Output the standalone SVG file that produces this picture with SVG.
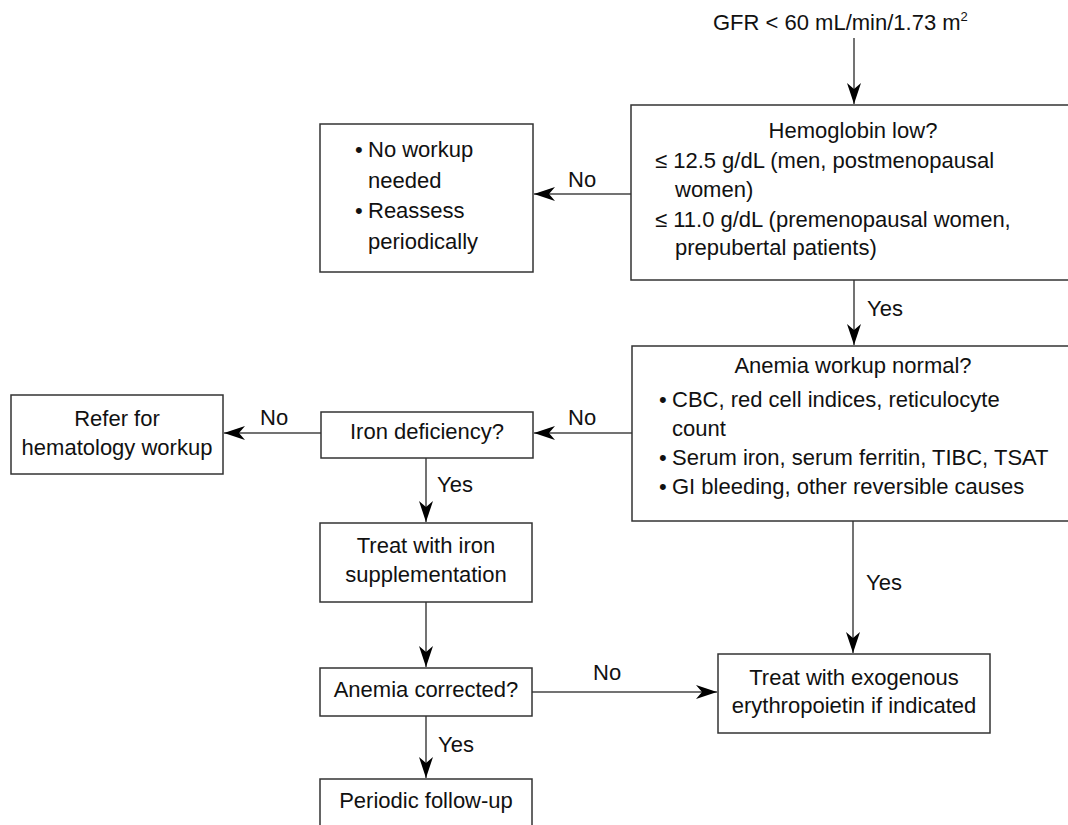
<svg xmlns="http://www.w3.org/2000/svg" width="1068" height="825" viewBox="0 0 1068 825">
<style>
.box{fill:#fff;stroke:#333;stroke-width:1.5}
.t{font-family:"Liberation Sans",Arial,sans-serif;font-size:22px;fill:#111}
.c{text-anchor:middle}
.ln{fill:none;stroke:#444;stroke-width:1.5;marker-end:url(#ah)}
</style>
<defs>
<marker id="ah" markerUnits="userSpaceOnUse" markerWidth="24" markerHeight="16" viewBox="-22 -8 24 16" refX="0" refY="0" orient="auto">
<path d="M0,0 L-21,-7 L-15,0 L-21,7 Z" fill="#000"/>
</marker>
</defs>
<g id="connectors">
<line class="ln" x1="854" y1="38" x2="854" y2="104"/>
<line class="ln" x1="631" y1="194" x2="534" y2="194"/>
<line class="ln" x1="854" y1="280" x2="854" y2="345"/>
<line class="ln" x1="632" y1="433" x2="534" y2="433"/>
<line class="ln" x1="321" y1="433" x2="224" y2="433"/>
<line class="ln" x1="426" y1="458" x2="426" y2="522"/>
<line class="ln" x1="426" y1="602" x2="426" y2="667"/>
<line class="ln" x1="532" y1="692" x2="717" y2="692"/>
<line class="ln" x1="426" y1="716" x2="426" y2="778"/>
<line class="ln" x1="853" y1="521" x2="853" y2="653"/>
<text class="t" x="568" y="187">No</text>
<text class="t" x="867" y="316">Yes</text>
<text class="t" x="568" y="425">No</text>
<text class="t" x="260" y="425">No</text>
<text class="t" x="437" y="492">Yes</text>
<text class="t" x="593" y="680">No</text>
<text class="t" x="438" y="752">Yes</text>
<text class="t" x="866" y="590">Yes</text>
</g>
<g id="start">
<text class="t" x="713" y="30">GFR &lt; 60 mL/min/1.73 m<tspan font-size="13" dy="-9">2</tspan></text>
</g>
<g id="hemoglobin">
<rect class="box" x="631" y="105" width="450" height="175"/>
<text class="t c" x="853" y="138">Hemoglobin low?</text>
<text class="t" x="655" y="168">≤ 12.5 g/dL (men, postmenopausal</text>
<text class="t" x="675" y="197">women)</text>
<text class="t" x="655" y="227">≤ 11.0 g/dL (premenopausal women,</text>
<text class="t" x="675" y="255">prepubertal patients)</text>
</g>
<g id="noworkup">
<rect class="box" x="320" y="124" width="213" height="148"/>
<text class="t" x="355" y="157">•</text>
<text class="t" x="368" y="157">No workup</text>
<text class="t" x="368" y="188">needed</text>
<text class="t" x="355" y="218">•</text>
<text class="t" x="368" y="218">Reassess</text>
<text class="t" x="368" y="249">periodically</text>
</g>
<g id="anemiaworkup">
<rect class="box" x="632" y="346" width="450" height="175"/>
<text class="t c" x="853" y="373">Anemia workup normal?</text>
<text class="t" x="659" y="407">•</text>
<text class="t" x="672" y="407">CBC, red cell indices, reticulocyte</text>
<text class="t" x="672" y="436">count</text>
<text class="t" x="659" y="465">•</text>
<text class="t" x="672" y="465">Serum iron, serum ferritin, TIBC, TSAT</text>
<text class="t" x="659" y="494">•</text>
<text class="t" x="672" y="494">GI bleeding, other reversible causes</text>
</g>
<g id="iron">
<rect class="box" x="321" y="412" width="212" height="46"/>
<text class="t c" x="427" y="439">Iron deficiency?</text>
</g>
<g id="refer">
<rect class="box" x="11" y="395" width="212" height="79"/>
<text class="t c" x="117" y="426">Refer for</text>
<text class="t c" x="117" y="455">hematology workup</text>
</g>
<g id="treatiron">
<rect class="box" x="320" y="523" width="212" height="79"/>
<text class="t c" x="426" y="553">Treat with iron</text>
<text class="t c" x="426" y="582">supplementation</text>
</g>
<g id="corrected">
<rect class="box" x="320" y="668" width="212" height="48"/>
<text class="t c" x="426" y="697">Anemia corrected?</text>
</g>
<g id="followup">
<rect class="box" x="320" y="779" width="212" height="60"/>
<text class="t c" x="426" y="808">Periodic follow-up</text>
</g>
<g id="epo">
<rect class="box" x="718" y="654" width="272" height="79"/>
<text class="t c" x="854" y="685">Treat with exogenous</text>
<text class="t c" x="854" y="713">erythropoietin if indicated</text>
</g>
</svg>
